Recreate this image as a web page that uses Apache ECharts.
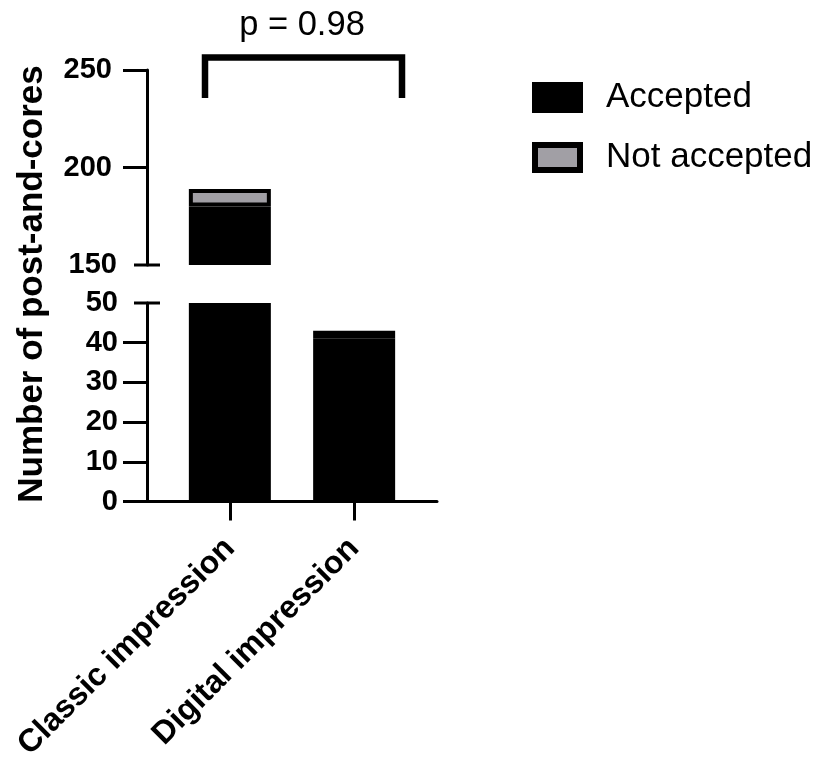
<!DOCTYPE html>
<html><head><meta charset="utf-8">
<script src="https://cdn.jsdelivr.net/npm/echarts@6/dist/echarts.min.js"></script>
<style>html,body{margin:0;padding:0;background:#fff}#c{width:821px;height:758px}</style>
</head><body><div id="c"></div>
<script>
// ---- data ----
const categories = ['Classic impression', 'Digital impression'];
const accepted = [180, 41];
const notAccepted = [9, 2];
const seriesNames = ['Accepted', 'Not accepted'];
const upperTicks = [150, 200, 250];
const lowerTicks = [0, 10, 20, 30, 40, 50];
const pLabel = 'p = 0.98';
const yTitle = 'Number of post-and-cores';

// ---- layout helpers ----
const FONT = 'Arial, "Liberation Sans", Helvetica, sans-serif';
const GRAY = '#a19fa5';
const GRID_LEFT = 147, GRID_W = 290;
const slots = 8, catSlots = [2, 5];
const axisCats = Array.from({length: slots}, (_, i) => '#' + i);
catSlots.forEach((s, i) => axisCats[s] = categories[i]);
const place = arr => { const out = new Array(slots).fill(null); catSlots.forEach((s, i) => out[s] = arr[i]); return out; };
const UPPER_MIN = upperTicks[0], UPPER_MAX = upperTicks[upperTicks.length - 1];
const LOWER_MIN = lowerTicks[0], LOWER_MAX = lowerTicks[lowerTicks.length - 1];
const inUpper = accepted.map((a, i) => a + notAccepted[i] > UPPER_MIN);
const upperOnly = arr => arr.map((v, i) => inUpper[i] ? v : null);
const isCat = (i, v) => categories.indexOf(v) >= 0;

const labelBase = {color: '#000', fontSize: 29, fontWeight: 'bold', fontFamily: FONT};
const lineS = {color: '#000', width: 3};

const barStyle = [
  {color: '#000', borderColor: '#000', borderWidth: 0},
  {color: GRAY, borderColor: '#000', borderWidth: 4}
];

const chart = echarts.init(document.getElementById('c'), null, {renderer: 'canvas'});
const option = {
  animation: false,
  backgroundColor: '#fff',
  grid: [
    {left: GRID_LEFT, width: GRID_W, top: 70, height: 195, outerBoundsMode: 'none', containLabel: false},
    {left: GRID_LEFT, width: GRID_W, top: 303, height: 198.5, outerBoundsMode: 'none', containLabel: false}
  ],
  xAxis: [
    {type: 'category', gridIndex: 0, data: axisCats, boundaryGap: false, show: false},
    {type: 'category', gridIndex: 1, data: axisCats, boundaryGap: false,
     axisLine: {show: true, lineStyle: lineS},
     axisTick: {show: true, length: 19, lineStyle: lineS, interval: isCat},
     axisLabel: {show: true, interval: isCat, rotate: 45, margin: 42, color: '#000', fontSize: 32, fontWeight: 'bold', fontFamily: FONT},
     splitLine: {show: false}}
  ],
  yAxis: [
    {type: 'value', gridIndex: 0, min: UPPER_MIN, max: UPPER_MAX, interval: 50,
     axisLine: {show: true, lineStyle: lineS},
     axisTick: {show: true, length: 24, lineStyle: lineS, customValues: upperTicks.slice(1)},
     axisLabel: {show: true, margin: 30, ...labelBase,
       formatter: v => v === UPPER_MIN ? '{n|' + v + '}' : '{p|' + v + '}',
       rich: {n: {...labelBase}, p: {...labelBase, padding: [0, 5, 0, 0]}}},
     splitLine: {show: false}},
    {type: 'value', gridIndex: 1, min: LOWER_MIN, max: LOWER_MAX, interval: 10,
     axisLine: {show: true, lineStyle: lineS},
     axisTick: {show: true, length: 24, lineStyle: lineS, customValues: lowerTicks.slice(0, -1)},
     axisLabel: {show: true, margin: 29, ...labelBase},
     splitLine: {show: false}}
  ],
  legend: {
    orient: 'vertical', left: 532, top: 80, padding: 0,
    itemWidth: 45, itemHeight: 25, itemGap: 25, icon: 'rect',
    data: seriesNames,
    itemStyle: {borderWidth: 6, borderColor: '#000'},
    textStyle: {color: '#000', fontSize: 35, fontFamily: FONT, lineHeight: 25, padding: [0, 0, 0, 21]}
  },
  series: [
    {name: seriesNames[0], type: 'bar', xAxisIndex: 0, yAxisIndex: 0, stack: 'u', barWidth: 82, clip: true,
     itemStyle: barStyle[0], data: place(upperOnly(accepted))},
    {name: seriesNames[1], type: 'bar', xAxisIndex: 0, yAxisIndex: 0, stack: 'u', barWidth: 82, clip: true,
     itemStyle: barStyle[1], data: place(upperOnly(notAccepted))},
    {name: seriesNames[0], type: 'bar', xAxisIndex: 1, yAxisIndex: 1, stack: 'l', barWidth: 82, clip: true,
     itemStyle: barStyle[0], data: place(accepted)},
    {name: seriesNames[1], type: 'bar', xAxisIndex: 1, yAxisIndex: 1, stack: 'l', barWidth: 82, clip: true,
     itemStyle: barStyle[1], data: place(notAccepted)}
  ]
};
chart.setOption(option);

// axis break marks + annotations
const yBreakUpper = chart.convertToPixel({yAxisIndex: 0}, UPPER_MIN);
const yBreakLower = chart.convertToPixel({yAxisIndex: 1}, LOWER_MAX);
const xAxisPx = chart.convertToPixel({xAxisIndex: 1}, axisCats[0]);
chart.setOption({
  graphic: [
    {type: 'line', shape: {x1: xAxisPx - 13, y1: yBreakUpper, x2: xAxisPx + 13, y2: yBreakUpper}, style: {stroke: '#000', lineWidth: 3}},
    {type: 'line', shape: {x1: xAxisPx - 13, y1: yBreakLower, x2: xAxisPx + 13, y2: yBreakLower}, style: {stroke: '#000', lineWidth: 3}},
    {type: 'polyline', shape: {points: [[205, 98], [205, 57.5], [402, 57.5], [402, 98]]}, style: {stroke: '#000', lineWidth: 6.5, fill: null}},
    {type: 'text', x: 302, y: 25, style: {text: pLabel, fontSize: 34.5, fontFamily: FONT, fill: '#000', textAlign: 'center', textVerticalAlign: 'middle'}},
    {type: 'text', x: 32, y: 284, rotation: Math.PI / 2, style: {text: yTitle, fontSize: 35, fontWeight: 'bold', fontFamily: FONT, fill: '#000', textAlign: 'center', textVerticalAlign: 'middle'}}
  ]
});
</script>
</body></html>
